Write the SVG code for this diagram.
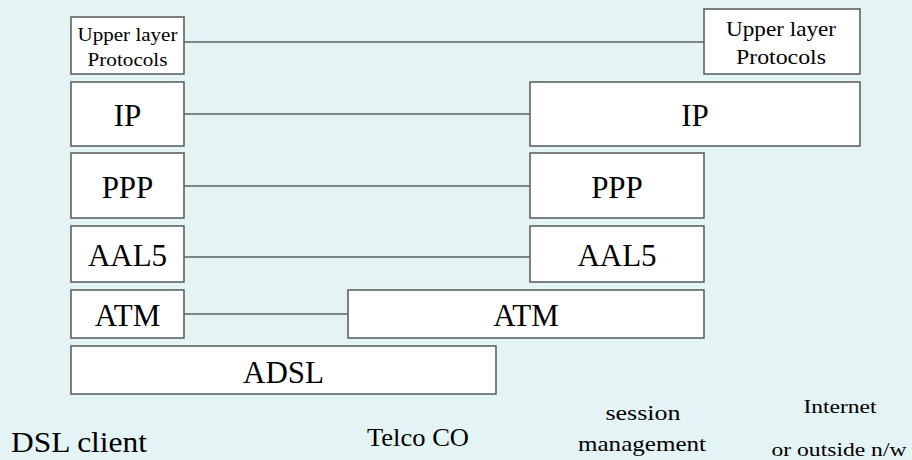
<svg xmlns="http://www.w3.org/2000/svg" width="912" height="460" viewBox="0 0 912 460">
<defs>
<rect id="bg" width="912" height="460" fill="#e4f4f4"/>
</defs>
<use href="#bg"/>
<g id="connectors" stroke="#5f6262" stroke-width="1.6" fill="none">
<line x1="184" y1="42" x2="704" y2="42"/>
<line x1="184" y1="114" x2="530" y2="114"/>
<line x1="184" y1="186" x2="530" y2="186"/>
<line x1="184" y1="257" x2="530" y2="257"/>
<line x1="184" y1="314" x2="348" y2="314"/>
</g>
<g font-family="Liberation Serif" fill="#000000">
<g id="upper-left"><rect fill="#ffffff" stroke="#5f6262" stroke-width="1.6" x="71" y="17" width="113" height="57"/>
<text font-family="Liberation Serif" font-size="19" text-anchor="middle" x="127.5" y="41" textLength="100" lengthAdjust="spacingAndGlyphs">Upper layer</text>
<text font-family="Liberation Serif" font-size="19" text-anchor="middle" x="127.5" y="66" textLength="80" lengthAdjust="spacingAndGlyphs">Protocols</text></g>
<g id="upper-right"><rect fill="#ffffff" stroke="#5f6262" stroke-width="1.6" x="704" y="9" width="156" height="65"/>
<text font-family="Liberation Serif" font-size="21" text-anchor="middle" x="781" y="36" textLength="110" lengthAdjust="spacingAndGlyphs">Upper layer</text>
<text font-family="Liberation Serif" font-size="21" text-anchor="middle" x="781" y="64" textLength="90" lengthAdjust="spacingAndGlyphs">Protocols</text></g>
<g id="ip-left"><rect fill="#ffffff" stroke="#5f6262" stroke-width="1.6" x="71" y="82" width="113" height="64"/><text font-family="Liberation Serif" font-size="31" text-anchor="middle" x="127.5" y="126">IP</text></g>
<g id="ip-right"><rect fill="#ffffff" stroke="#5f6262" stroke-width="1.6" x="530" y="82" width="330" height="64"/><text font-family="Liberation Serif" font-size="31" text-anchor="middle" x="695" y="126">IP</text></g>
<g id="ppp-left"><rect fill="#ffffff" stroke="#5f6262" stroke-width="1.6" x="71" y="153" width="113" height="65"/><text font-family="Liberation Serif" font-size="31" text-anchor="middle" x="127.5" y="198">PPP</text></g>
<g id="ppp-right"><rect fill="#ffffff" stroke="#5f6262" stroke-width="1.6" x="530" y="153" width="174" height="65"/><text font-family="Liberation Serif" font-size="31" text-anchor="middle" x="617" y="198">PPP</text></g>
<g id="aal5-left"><rect fill="#ffffff" stroke="#5f6262" stroke-width="1.6" x="71" y="226" width="113" height="56"/><text font-family="Liberation Serif" font-size="31" text-anchor="middle" x="127.5" y="266">AAL5</text></g>
<g id="aal5-right"><rect fill="#ffffff" stroke="#5f6262" stroke-width="1.6" x="530" y="226" width="174" height="56"/><text font-family="Liberation Serif" font-size="31" text-anchor="middle" x="617" y="266">AAL5</text></g>
<g id="atm-left"><rect fill="#ffffff" stroke="#5f6262" stroke-width="1.6" x="71" y="290" width="113" height="48"/><text font-family="Liberation Serif" font-size="31" text-anchor="middle" x="127.5" y="326">ATM</text></g>
<g id="atm-right"><rect fill="#ffffff" stroke="#5f6262" stroke-width="1.6" x="348" y="290" width="356" height="48"/><text font-family="Liberation Serif" font-size="31" text-anchor="middle" x="526" y="326">ATM</text></g>
<g id="adsl"><rect fill="#ffffff" stroke="#5f6262" stroke-width="1.6" x="71" y="346" width="425" height="48"/><text font-family="Liberation Serif" font-size="31" text-anchor="middle" x="283.5" y="383">ADSL</text></g>
<g id="labels">
<text font-family="Liberation Serif" font-size="29" x="11" y="452" textLength="136" lengthAdjust="spacingAndGlyphs">DSL client</text>
<text font-family="Liberation Serif" font-size="25" x="367" y="446" textLength="102" lengthAdjust="spacingAndGlyphs">Telco CO</text>
<text font-family="Liberation Serif" font-size="22" text-anchor="middle" x="643" y="420" textLength="75" lengthAdjust="spacingAndGlyphs">session</text>
<text font-family="Liberation Serif" font-size="22" text-anchor="middle" x="642" y="451" textLength="128" lengthAdjust="spacingAndGlyphs">management</text>
<text font-family="Liberation Serif" font-size="19" text-anchor="middle" x="840" y="413" textLength="73" lengthAdjust="spacingAndGlyphs">Internet</text>
<text font-family="Liberation Serif" font-size="19" text-anchor="middle" x="839" y="456" textLength="135" lengthAdjust="spacingAndGlyphs">or outside n/w</text>
</g>
</g>
</svg>
